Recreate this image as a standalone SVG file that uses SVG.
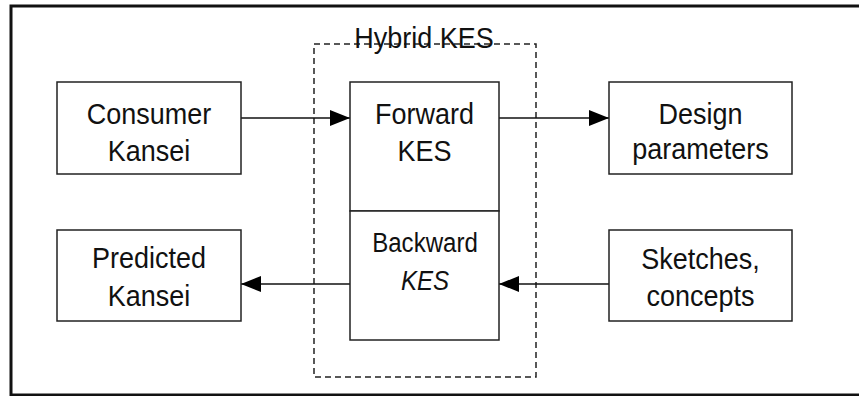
<svg xmlns="http://www.w3.org/2000/svg" width="859" height="396" viewBox="0 0 859 396">
<defs>
<style>
.box{fill:#fff;stroke:#222;stroke-width:1.5}
.t{font-family:"Liberation Sans",Arial,sans-serif;font-size:30px;fill:#111;text-anchor:middle}
.b{font-size:28px}
.i{font-style:italic}
.c{stroke:#111;stroke-width:1.5;fill:none}
</style>
<marker id="ah" markerWidth="20" markerHeight="16" refX="20" refY="8" orient="auto" markerUnits="userSpaceOnUse">
<path d="M0,0 L20,8 L0,16 Z" fill="#000"/>
</marker>
</defs>
<rect x="0" y="0" width="859" height="396" fill="#fff"/>
<rect x="11" y="6" width="860" height="389" fill="none" stroke="#111" stroke-width="3"/>
<g id="hybrid">
<rect x="314" y="44" width="222" height="333" fill="none" stroke="#222" stroke-width="1.5" stroke-dasharray="6 4"/>
<text class="t" transform="translate(424,48) scale(0.9,1)">Hybrid KES</text>
</g>
<g id="connectors">
<line class="c" x1="241" y1="118" x2="350" y2="118" marker-end="url(#ah)"/>
<line class="c" x1="499" y1="118" x2="609" y2="118" marker-end="url(#ah)"/>
<line class="c" x1="350" y1="284" x2="241" y2="284" marker-end="url(#ah)"/>
<line class="c" x1="609" y1="284" x2="499" y2="284" marker-end="url(#ah)"/>
</g>
<g id="consumer">
<rect class="box" x="57" y="82" width="184" height="92"/>
<text class="t" transform="translate(149,124) scale(0.9,1)">Consumer</text>
<text class="t" transform="translate(149,161) scale(0.9,1)">Kansei</text>
</g>
<g id="forward">
<rect class="box" x="350" y="82" width="149" height="129"/>
<text class="t" transform="translate(424.5,124) scale(0.9,1)">Forward</text>
<text class="t" transform="translate(424.5,161) scale(0.9,1)">KES</text>
</g>
<g id="backward">
<rect class="box" x="350" y="211" width="149" height="129"/>
<text class="t b" transform="translate(425,252) scale(0.86,1)">Backward</text>
<text class="t b i" transform="translate(425,290) scale(0.86,1)">KES</text>
</g>
<g id="design">
<rect class="box" x="609" y="82" width="183" height="92"/>
<text class="t" transform="translate(700.5,124) scale(0.9,1)">Design</text>
<text class="t" transform="translate(700.5,159) scale(0.9,1)">parameters</text>
</g>
<g id="predicted">
<rect class="box" x="57" y="230" width="184" height="91"/>
<text class="t" transform="translate(149,268) scale(0.9,1)">Predicted</text>
<text class="t" transform="translate(149,306) scale(0.9,1)">Kansei</text>
</g>
<g id="sketches">
<rect class="box" x="609" y="230" width="183" height="91"/>
<text class="t" transform="translate(700.5,269) scale(0.9,1)">Sketches,</text>
<text class="t" transform="translate(700.5,306) scale(0.9,1)">concepts</text>
</g>
</svg>
